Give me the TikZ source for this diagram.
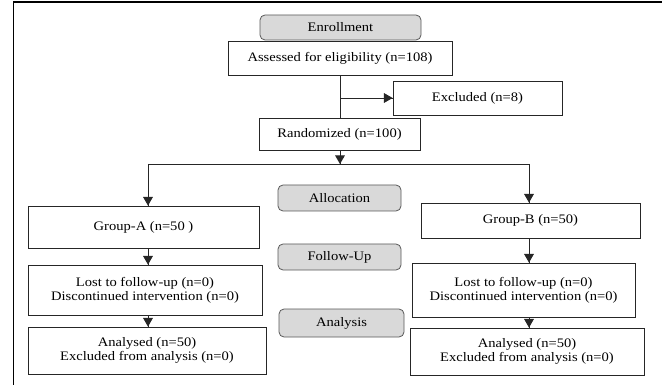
\documentclass[tikz,border=0pt]{standalone}
\usepackage{fontspec}
\setmainfont{Liberation Serif}[FakeStretch=1.12]
\usepackage{xcolor}
\usetikzlibrary{decorations.markings}
\usetikzlibrary{arrows}
\tikzset{->/.style = {decoration={markings,
                                  mark=at position 1 with {\arrow[scale=1.3]{triangle 60}}},
                      postaction={decorate}}}
\tikzset{box/.style = {draw=mline, line width=0.8, align=center, inner sep=0, font=\fontsize{13}{14}\selectfont}}
\tikzset{stage/.style = {box, fill=mgray, draw=mdark, rounded corners=5}}
\definecolor{mgray}{rgb}{0.85, 0.85, 0.85}
\definecolor{mdark}{rgb}{0.35, 0.35, 0.35}
\definecolor{mline}{rgb}{0.15, 0.15, 0.15}

\begin{document}
\begin{tikzpicture}[x=1pt, y=-1pt]
    \useasboundingbox (0, 0) rectangle (662, 385);
    \draw [line width=1.6] (13.5, 385) -- (13.5, 2) -- (662, 2);

    \node [stage, minimum width=161, minimum height=25] (enroll) at (340.5, 27.5) {Enrollment};
    \node [box, minimum width=224, minimum height=34] (assess) at (340, 58) {Assessed for eligibility (n=108)};
    \node [box, minimum width=169, minimum height=34] (excl) at (477.5, 98) {Excluded (n=8)};
    \node [box, minimum width=161, minimum height=32] (rand) at (339.5, 134) {Randomized (n=100)};

    \node [stage, minimum width=123, minimum height=26] (alloc) at (339.5, 198) {Allocation};
    \node [stage, minimum width=123, minimum height=26] (follow) at (339.5, 257) {Follow-Up};
    \node [stage, minimum width=125, minimum height=28] (anal) at (341.5, 323) {Analysis};

    \node [box, minimum width=231, minimum height=42] (grpA) at (143.5, 227) {Group-A (n=50 )};
    \node [box, minimum width=234, minimum height=50] (lostA) at (145, 290) {Lost to follow-up (n=0)\\Discontinued intervention (n=0)};
    \node [box, minimum width=238, minimum height=47] (anaA) at (147, 350.5) {Analysed (n=50)\\Excluded from analysis (n=0)};

    \node [box, minimum width=219, minimum height=35] (grpB) at (530.5, 220.5) {Group-B (n=50)};
    \node [box, minimum width=223, minimum height=54] (lostB) at (523.5, 290) {Lost to follow-up (n=0)\\Discontinued intervention (n=0)};
    \node [box, minimum width=234, minimum height=47] (anaB) at (527, 351.5) {Analysed (n=50)\\Excluded from analysis (n=0)};

    \coordinate (split) at (340, 164);
    \coordinate (left) at (148, 164);
    \coordinate (right) at (529, 164);

    \draw [mline, line width=0.8] (assess.south -| split) -- (rand.north -| split);
    \draw [mline, line width=0.8, ->] (split |- excl.west) -- (excl.west);
    \draw [mline, line width=0.8, ->] (rand.south -| split) -- (split);
    \draw [mline, line width=0.8] (left) -- (right);
    \draw [mline, line width=0.8, ->] (left) -- (grpA.north -| left);
    \draw [mline, line width=0.8, ->] (right) -- (grpB.north -| right);
    \draw [mline, line width=0.8, ->] (grpA.south -| left) -- (lostA.north -| left);
    \draw [mline, line width=0.8, ->] (lostA.south -| left) -- (anaA.north -| left);
    \draw [mline, line width=0.8, ->] (grpB.south -| right) -- (lostB.north -| right);
    \draw [mline, line width=0.8, ->] (lostB.south -| right) -- (anaB.north -| right);
\end{tikzpicture}
\end{document}
